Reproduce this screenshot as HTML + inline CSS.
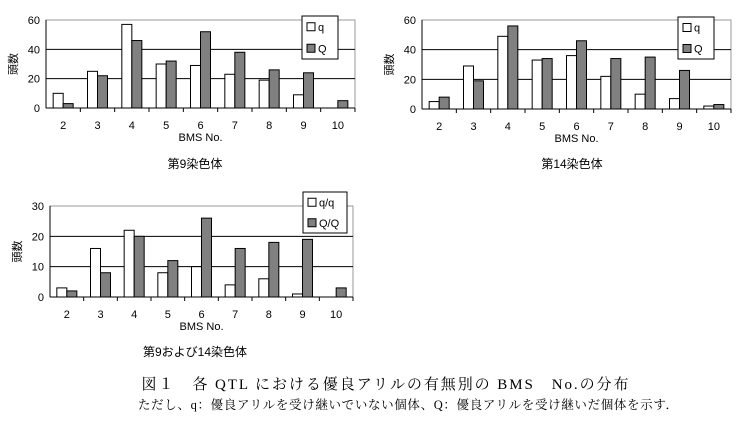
<!DOCTYPE html>
<html><head><meta charset="utf-8"><style>
body{margin:0;background:#fff;width:751px;height:421px;overflow:hidden}
svg{display:block}
</style></head><body>
<svg id="s" width="751" height="421" xmlns="http://www.w3.org/2000/svg" font-family="Liberation Sans, Noto Sans CJK JP, sans-serif">
<text x="385" y="389" font-family="Liberation Serif, Noto Serif CJK SC, serif" font-size="15" text-anchor="middle" textLength="487">図１　各 QTL における優良アリルの有無別の BMS　No.の分布</text>
<text x="408" y="409" font-family="Liberation Serif, Noto Serif CJK SC, serif" font-size="12.5" text-anchor="middle" textLength="540">ただし、q：優良アリルを受け継いでいない個体、Q：優良アリルを受け継いだ個体を示す．</text>
</svg>
<script>
var s=document.getElementById('s'),h='';
function chart(x0,x1,yt,yb,max,step,q,Q,lg,l1,l2,sub,subx,lw,title){
 var n=9,cw=(x1-x0)/n,sc=(yb-yt)/max;
 h+='<rect x="'+x0+'" y="'+yt+'" width="'+(x1-x0)+'" height="'+(yb-yt)+'" fill="none" stroke="#999" stroke-width="1"/>';
 for(var v=step;v<max;v+=step){var y=yb-v*sc;h+='<line x1="'+x0+'" x2="'+x1+'" y1="'+y+'" y2="'+y+'" stroke="#000"/>';}
 for(var v=0;v<=max;v+=step){var y=yb-v*sc;h+='<text x="'+(x0-6)+'" y="'+(y+4)+'" font-size="11" text-anchor="end">'+v+'</text>';}
 for(var i=0;i<n;i++){var cx=x0+cw*i,bw=10;var bx=cx+cw/2-bw;
  if(q[i]>0)h+='<rect x="'+bx+'" y="'+(yb-q[i]*sc)+'" width="'+bw+'" height="'+q[i]*sc+'" fill="#fff" stroke="#000"/>';
  if(Q[i]>0)h+='<rect x="'+(bx+bw)+'" y="'+(yb-Q[i]*sc)+'" width="'+bw+'" height="'+Q[i]*sc+'" fill="#808080" stroke="#000"/>';
  h+='<line x1="'+(cx+cw)+'" x2="'+(cx+cw)+'" y1="'+yb+'" y2="'+(yb+4)+'" stroke="#000"/>';
  h+='<text x="'+(cx+cw/2)+'" y="'+(yb+21)+'" font-size="11" text-anchor="middle">'+(i+2)+'</text>';}
 h+='<line x1="'+x0+'" x2="'+x0+'" y1="'+yt+'" y2="'+yb+'" stroke="#000"/><line x1="'+x0+'" x2="'+x1+'" y1="'+yb+'" y2="'+yb+'" stroke="#000"/>';
 h+='<text x="'+((x0+x1)/2)+'" y="'+(yb+33)+'" font-size="11" text-anchor="middle">BMS No.</text>';
 var ly=(yt+yb)/2,lx=x0-33;
 h+='<text x="'+lx+'" y="'+ly+'" font-size="11" text-anchor="middle" transform="rotate(-90 '+lx+' '+ly+')" dy="4">頭数</text>';
 h+='<rect x="'+lg[0]+'" y="'+lg[1]+'" width="'+lw+'" height="'+lg[2]+'" fill="#fff" stroke="#000"/>';
 var m=lg[2]/4;
 h+='<rect x="'+(lg[0]+5)+'" y="'+(lg[1]+m-4)+'" width="8" height="8" fill="#fff" stroke="#000"/><text x="'+(lg[0]+16)+'" y="'+(lg[1]+m+4)+'" font-size="11">'+l1+'</text>';
 h+='<rect x="'+(lg[0]+5)+'" y="'+(lg[1]+3*m-4)+'" width="8" height="8" fill="#808080" stroke="#000"/><text x="'+(lg[0]+16)+'" y="'+(lg[1]+3*m+4)+'" font-size="11">'+l2+'</text>';
 h+='<text x="'+subx+'" y="'+sub+'" font-size="12" text-anchor="middle">'+title+'</text>';
}
chart(46,355,20,108,60,20,[10,25,57,30,29,23,19,9,0],[3,22,46,32,52,38,26,24,5],[302,16,43],'q','Q',168,195,36,'第9染色体');
chart(422,731,20,109,60,20,[5,29,49,33,36,22,10,7,2],[8,19,56,34,46,34,35,26,3],[678,17,42],'q','Q',168,572,36,'第14染色体');
chart(50,353,206,297,30,10,[3,16,22,8,10,4,6,1,0],[2,8,20,12,26,16,18,19,3],[303,192,41],'q/q','Q/Q',356,195,44,'第9および14染色体');
s.insertAdjacentHTML('beforeend',h);
</script>
</body></html>
